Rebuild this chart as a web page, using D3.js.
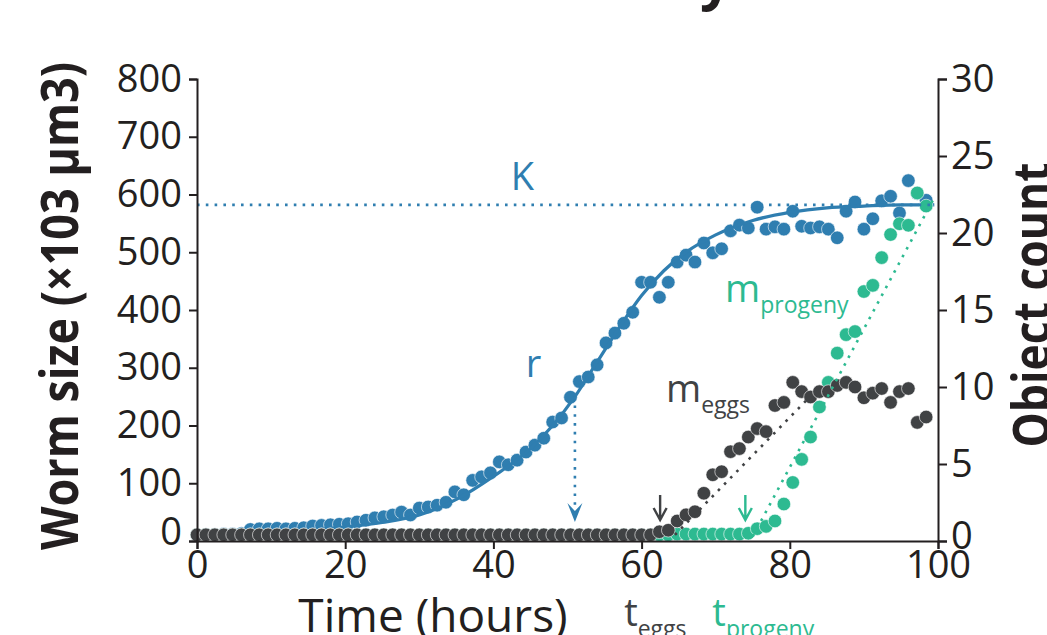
<!DOCTYPE html>
<html>
<head>
<meta charset="utf-8">
<script src="https://cdn.jsdelivr.net/npm/d3@7"></script>
<style>
body { margin: 0; background: #fff; }
svg { display: block; font-family: 'Open Sans', sans-serif; }
</style>
</head>
<body>
<svg width="1047" height="635"></svg>
<script>
// sampling times (hours)
const hours = [
  0, 1.2, 2.4, 3.6, 4.8, 6, 7.2, 8.4, 9.6, 10.8,
  12, 13.2, 14.4, 15.6, 16.8, 18, 19.2, 20.4, 21.6, 22.8,
  24, 25.2, 26.4, 27.6, 28.8, 30, 31.2, 32.4, 33.6, 34.8,
  36, 37.2, 38.4, 39.6, 40.8, 42, 43.2, 44.4, 45.6, 46.8,
  48, 49.2, 50.4, 51.6, 52.8, 54, 55.2, 56.4, 57.6, 58.8,
  60, 61.2, 62.4, 63.6, 64.8, 66, 67.2, 68.4, 69.6, 70.8,
  72, 73.2, 74.4, 75.6, 76.8, 78, 79.2, 80.4, 81.6, 82.8,
  84, 85.2, 86.4, 87.6, 88.8, 90, 91.2, 92.4, 93.6, 94.8,
  96, 97.2, 98.4
];
// worm size (x10^3 um3), left axis
const wormSize = [
  10, 11, 11, 12, 12, 13, 20, 21, 21, 22,
  21, 22, 23, 26, 27, 28, 29, 30, 33, 36,
  40, 42, 45, 50, 45, 57, 59, 62, 67, 85,
  80, 105, 111, 118, 137, 132, 140, 154, 166, 178,
  206, 213, 249, 276, 284, 305, 343, 360, 377, 396,
  448, 448, 422, 448, 483, 495, 483, 516, 499, 506,
  537, 547, 542, 578, 540, 544, 540, 571, 545, 542,
  544, 540, 525, 571, 587, 540, 558, 589, 597, 568,
  624, 602, 590
];
// egg count, right axis
const eggCount = [
  0.4, 0.4, 0.4, 0.4, 0.4, 0.4, 0.4, 0.4, 0.4, 0.4,
  0.4, 0.4, 0.4, 0.4, 0.4, 0.4, 0.4, 0.4, 0.4, 0.4,
  0.4, 0.4, 0.4, 0.4, 0.4, 0.4, 0.4, 0.4, 0.4, 0.4,
  0.4, 0.4, 0.4, 0.4, 0.4, 0.4, 0.4, 0.4, 0.4, 0.4,
  0.4, 0.4, 0.4, 0.4, 0.4, 0.4, 0.4, 0.4, 0.4, 0.4,
  0.4, 0.4, 0.6, 0.7, 1.3, 1.7, 1.9, 3.1, 4.3, 4.5,
  5.8, 6.0, 6.75, 7.3, 7.1, 8.8, 9.0, 10.3, 9.7, 9.35,
  9.7, 9.7, 10.1, 10.3, 10.0, 9.3, 9.6, 9.9, 9.0, 9.7,
  9.9, 7.7, 8.05
];
// progeny count, right axis
const progenyCount = [
  0.4, 0.4, 0.4, 0.4, 0.4, 0.4, 0.4, 0.4, 0.4, 0.4,
  0.4, 0.4, 0.4, 0.4, 0.4, 0.4, 0.4, 0.4, 0.4, 0.4,
  0.4, 0.4, 0.4, 0.4, 0.4, 0.4, 0.4, 0.4, 0.4, 0.4,
  0.4, 0.4, 0.4, 0.4, 0.4, 0.4, 0.4, 0.4, 0.4, 0.4,
  0.4, 0.4, 0.4, 0.4, 0.4, 0.4, 0.4, 0.4, 0.4, 0.4,
  0.4, 0.4, 0.4, 0.4, 0.45, 0.45, 0.45, 0.45, 0.45, 0.45,
  0.45, 0.45, 0.5, 0.8, 0.95, 1.3, 2.4, 3.8, 5.3, 6.75,
  8.7, 10.3, 12.2, 13.4, 13.6, 16.2, 16.6, 18.4, 19.9, 20.6,
  20.5, 22.6, 21.75
];
// fitted growth curve
const fitHours = [0, 10, 20, 25, 30, 35, 40, 45, 48, 51, 54, 57, 60, 63, 66, 70, 75, 80, 85, 90, 95, 99.5];
const fitSize = [12, 15, 24, 32, 45, 72, 112, 160, 200, 250, 310, 370, 425, 468, 500, 530, 555, 569, 577, 580, 582, 582];

const capacityK = 582;
const inflectionHour = 51;
const eggOnsetHour = 62.5;
const progenyOnsetHour = 74;
const eggTrend = [[64.5, 0.4], [84, 10]];
const progenyTrend = [[75, 0.3], [99.5, 22.3]];

const xTicks = [0, 20, 40, 60, 80, 100];
const sizeTicks = [0, 100, 200, 300, 400, 500, 600, 700, 800];
const countTicks = [0, 5, 10, 15, 20, 25, 30];

const colors = {
  size: '#2f7eb0',
  eggs: '#404244',
  progeny: '#2dba91',
  axis: '#231f20'
};
const R = 6.8;

const svg = d3.select('svg');
const x = d3.scaleLinear().domain([0, 100]).range([197, 938]);
const ySize = d3.scaleLinear().domain([0, 800]).range([541, 79]);
const yCount = d3.scaleLinear().domain([0, 30]).range([541, 79]);

/* title (mostly above the crop) */
const title = svg.append('text')
  .attr('x', 0).attr('y', -1)
  .attr('font-size', 56).attr('font-weight', 700)
  .attr('fill', colors.axis)
  .text('Life history');
const yIdx = 'Life history'.lastIndexOf('y');
const ext = title.node().getExtentOfChar(yIdx);
title.attr('x', 716 - (ext.x + ext.width / 2));

/* points */
svg.append('g').selectAll('circle')
  .data(hours.map((h, i) => [h, wormSize[i]]))
  .join('circle')
  .attr('cx', d => x(d[0])).attr('cy', d => ySize(d[1])).attr('r', R)
  .attr('fill', colors.size).attr('stroke', '#fff').attr('stroke-width', 0.6);

svg.append('path')
  .datum(fitHours.map((h, i) => [h, fitSize[i]]))
  .attr('d', d3.line().x(d => x(d[0])).y(d => ySize(d[1])).curve(d3.curveMonotoneX))
  .attr('fill', 'none').attr('stroke', colors.size).attr('stroke-width', 3.2);

svg.append('g').selectAll('circle')
  .data(hours.map((h, i) => [h, progenyCount[i]]))
  .join('circle')
  .attr('cx', d => x(d[0])).attr('cy', d => yCount(d[1])).attr('r', R)
  .attr('fill', colors.progeny).attr('stroke', '#fff').attr('stroke-width', 0.6);

svg.append('g').selectAll('circle')
  .data(hours.map((h, i) => [h, eggCount[i]]))
  .join('circle')
  .attr('cx', d => x(d[0])).attr('cy', d => yCount(d[1])).attr('r', R)
  .attr('fill', colors.eggs).attr('stroke', '#fff').attr('stroke-width', 0.6);

/* dotted guides */
const dotted = (sel, color) => sel.attr('fill', 'none').attr('stroke', color)
  .attr('stroke-width', 2.6).attr('stroke-dasharray', '2.6 6.2');

dotted(svg.append('line')
  .attr('x1', x(0)).attr('x2', x(99.5))
  .attr('y1', ySize(capacityK)).attr('y2', ySize(capacityK)), colors.size);

const trendLine = d3.line().x(d => x(d[0])).y(d => yCount(d[1]));
dotted(svg.append('path').attr('d', trendLine(eggTrend)), colors.eggs);
dotted(svg.append('path').attr('d', trendLine(progenyTrend)), colors.progeny);

// inflection arrow
const xi = x(inflectionHour);
dotted(svg.append('line')
  .attr('x1', xi).attr('x2', xi)
  .attr('y1', ySize(fitSize[fitHours.indexOf(inflectionHour)])).attr('y2', 508), colors.size);
svg.append('path')
  .attr('d', `M${xi},522 L${xi - 7.5},503 L${xi},511 L${xi + 7.5},503 Z`)
  .attr('fill', colors.size);

// onset arrows
[[eggOnsetHour, colors.eggs], [progenyOnsetHour, colors.progeny]].forEach(([h, c]) => {
  const xo = x(h);
  svg.append('path')
    .attr('d', `M${xo},495 L${xo},520 M${xo - 6.5},508 L${xo},520 L${xo + 6.5},508`)
    .attr('fill', 'none').attr('stroke', c).attr('stroke-width', 2.4);
});

/* axes */
function styleAxis(g) {
  g.attr('font-size', null).attr('font-family', null);
  g.selectAll('path, line').attr('stroke', colors.axis).attr('stroke-width', 2);
  g.selectAll('text').attr('fill', colors.axis).attr('font-size', 38);
}

svg.append('g')
  .attr('transform', 'translate(0,541)')
  .call(d3.axisBottom(x).tickValues(xTicks).tickSize(8).tickPadding(2))
  .call(styleAxis);

const leftAxis = svg.append('g')
  .attr('transform', 'translate(197,0)')
  .call(d3.axisLeft(ySize).tickValues(sizeTicks).tickSize(8).tickPadding(7))
  .call(styleAxis);
leftAxis.selectAll('.tick text').filter(d => d === 0).attr('y', -9);

const rightAxis = svg.append('g')
  .attr('transform', 'translate(938,0)')
  .call(d3.axisRight(yCount).tickValues(countTicks).tickSize(9).tickPadding(4))
  .call(styleAxis);
rightAxis.selectAll('.tick text').filter(d => d === 0).attr('y', -5);

/* axis titles */
svg.append('text')
  .attr('transform', 'translate(78,306) rotate(-90)')
  .attr('text-anchor', 'middle')
  .attr('font-size', 52).attr('font-weight', 700).attr('fill', colors.axis)
  .attr('textLength', 488).attr('lengthAdjust', 'spacingAndGlyphs')
  .text('Worm size (×103 μm3)');

svg.append('text')
  .attr('transform', 'translate(1050,305) rotate(-90)')
  .attr('text-anchor', 'middle')
  .attr('font-size', 52).attr('font-weight', 700).attr('fill', colors.axis)
  .attr('textLength', 285).attr('lengthAdjust', 'spacingAndGlyphs')
  .text('Object count');

svg.append('text')
  .attr('x', 433).attr('y', 632)
  .attr('text-anchor', 'middle')
  .attr('font-size', 46).attr('fill', colors.axis)
  .text('Time (hours)');

/* annotations */
function subLabel(px, py, main, sub, color) {
  const t = svg.append('text').attr('x', px).attr('y', py).attr('fill', color).attr('font-size', 38);
  t.append('tspan').text(main);
  t.append('tspan').attr('font-size', 23).attr('dy', 11).text(sub);
}

svg.append('text').attr('x', x(43.9)).attr('y', 190).attr('text-anchor', 'middle')
  .attr('font-size', 38).attr('fill', colors.size).text('K');
svg.append('text').attr('x', x(45.4)).attr('y', 377).attr('text-anchor', 'middle')
  .attr('font-size', 38).attr('fill', colors.size).text('r');

subLabel(666, 402, 'm', 'eggs', colors.eggs);
subLabel(725, 302, 'm', 'progeny', colors.progeny);
subLabel(x(eggOnsetHour) - 36, 626, 't', 'eggs', colors.eggs);
subLabel(x(progenyOnsetHour) - 33, 626, 't', 'progeny', colors.progeny);
</script>
</body>
</html>
